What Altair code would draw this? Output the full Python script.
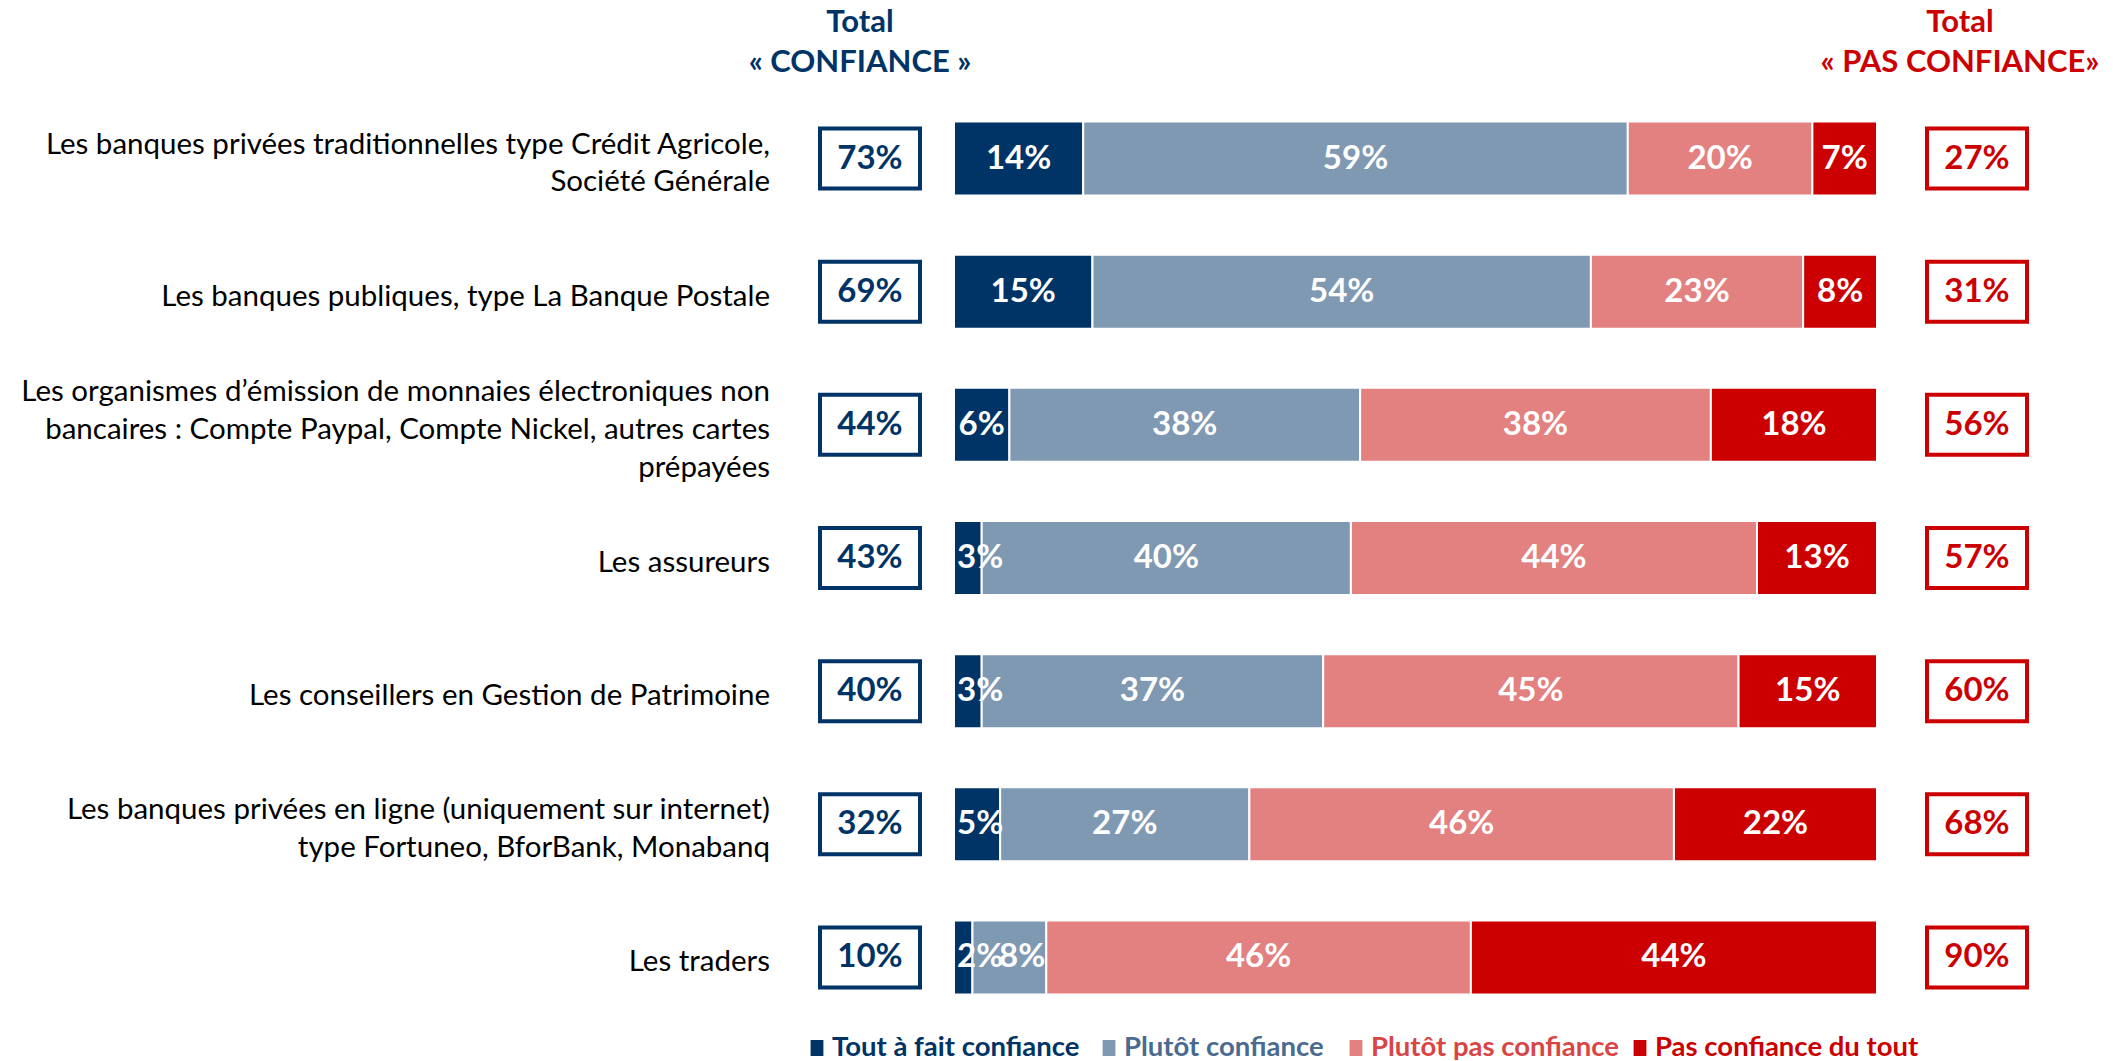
import altair as alt
import pandas as pd

# ---------------- data ----------------
categories = [
    "Les banques privées traditionnelles type Crédit Agricole,\nSociété Générale",
    "Les banques publiques, type La Banque Postale",
    "Les organismes d’émission de monnaies électroniques non\nbancaires : Compte Paypal, Compte Nickel, autres cartes\nprépayées",
    "Les assureurs",
    "Les conseillers en Gestion de Patrimoine",
    "Les banques privées en ligne (uniquement sur internet)\ntype Fortuneo, BforBank, Monabanq",
    "Les traders",
]
series = ["Tout à fait confiance", "Plutôt confiance", "Plutôt pas confiance", "Pas confiance du tout"]
tout_a_fait = [14, 15, 6, 3, 3, 5, 2]
plutot = [59, 54, 38, 40, 37, 27, 8]
plutot_pas = [20, 23, 38, 44, 45, 46, 46]
pas_du_tout = [7, 8, 18, 13, 15, 22, 44]
total_confiance = [73, 69, 44, 43, 40, 32, 10]
total_pas_confiance = [27, 31, 56, 57, 60, 68, 90]

# ---------------- styles ----------------
NAVY = "#003366"
STEEL = "#7F99B2"
SALMON = "#E38080"
RED = "#CC0000"
bar_colors = [NAVY, STEEL, SALMON, RED]
legend_text_colors = [NAVY, "#4A6A90", "#D94545", RED]
FONT = "Lato"
LINE_H = 37.8

W, H = 923, 932

rows = []
for ci, cat in enumerate(categories):
    for si, vals in enumerate([tout_a_fait, plutot, plutot_pas, pas_du_tout]):
        rows.append({"cat": cat, "series": series[si], "idx": si, "value": vals[ci]})
long_df = pd.DataFrame(rows)
tot_df = pd.DataFrame({"cat": categories, "conf": total_confiance, "pas": total_pas_confiance})

# legend layout (pixel positions relative to plot origin)
leg_sq_x = [-137, 155, 402, 686]
leg_df = pd.DataFrame({
    "series": series,
    "fill": bar_colors,
    "tcol": legend_text_colors,
    "sx": leg_sq_x,
    "tx": [x + 15 for x in leg_sq_x],
})

yenc = alt.Y("cat:N", sort=categories, axis=None,
             scale=alt.Scale(domain=categories, paddingInner=0, paddingOuter=0))
xscale = alt.Scale(domain=[0, 100], nice=False, zero=True)

base = alt.Chart(long_df).transform_stack(
    stack="value", groupby=["cat"], as_=["start", "end"], sort=[alt.SortField("idx")]
).transform_calculate(
    mid="(datum.start + datum.end) / 2",
    label="datum.value + '%'",
)

bars = base.mark_bar(size=74, stroke="white", strokeWidth=2).encode(
    x=alt.X("start:Q", scale=xscale, axis=None),
    x2="end:Q",
    y=yenc,
    color=alt.Color("series:N", scale=alt.Scale(domain=series, range=bar_colors), legend=None),
)

txt_style = dict(font=FONT, fontWeight="bold", fontSize=33, color="white", baseline="middle")
lab_mid = base.transform_filter(
    "!(datum.value <= 5) && !(datum.value < 10 && datum.idx == 1)"
).mark_text(align="center", **txt_style).encode(
    x=alt.X("mid:Q", scale=xscale), y=yenc, text="label:N")
lab_start = base.transform_filter("datum.value <= 5").mark_text(
    align="left", dx=3, **txt_style).encode(
    x=alt.X("start:Q", scale=xscale), y=yenc, text="label:N")
lab_end = base.transform_filter("datum.value > 5 && datum.value < 10 && datum.idx == 1").mark_text(
    align="right", dx=-1, **txt_style).encode(
    x=alt.X("end:Q", scale=xscale), y=yenc, text="label:N")

BOX = "M-1,-0.6L1,-0.6L1,0.6L-1,0.6Z"
tot = alt.Chart(tot_df).transform_calculate(
    conf_l="datum.conf + '%'", pas_l="datum.pas + '%'",
    nlines="length(split(datum.cat, '\\n'))")
box_l = tot.mark_point(shape=BOX, size=10000, filled=True, fill="white", stroke=NAVY,
                       strokeWidth=4, opacity=1).encode(x=alt.value(-84), y=yenc)
box_l_t = tot.mark_text(font=FONT, fontWeight="bold", fontSize=33, color=NAVY,
                        align="center", baseline="middle").encode(
    x=alt.value(-84), y=yenc, text="conf_l:N")
box_r = tot.mark_point(shape=BOX, size=10000, filled=True, fill="white", stroke=RED,
                       strokeWidth=4, opacity=1).encode(x=alt.value(1023), y=yenc)
box_r_t = tot.mark_text(font=FONT, fontWeight="bold", fontSize=33, color=RED,
                        align="center", baseline="middle").encode(
    x=alt.value(1023), y=yenc, text="pas_l:N")

cat_layers = []
for n in (1, 2, 3):
    cat_layers.append(
        tot.transform_filter(f"datum.nlines == {n}").mark_text(
            font=FONT, fontSize=29.5, color="black", align="right", baseline="middle",
            lineBreak="\n", lineHeight=LINE_H, dy=5 - (n - 1) * LINE_H / 2).encode(
            x=alt.value(-184), y=yenc, text="cat:N")
    )

one = alt.Data(values=[{"a": 1}])
hdr_style = dict(font=FONT, fontWeight="bold", fontSize=31, align="center", baseline="alphabetic")
h1 = alt.Chart(one).mark_text(color=NAVY, **hdr_style).encode(
    x=alt.value(-94), y=alt.value(-60), text=alt.value("Total"))
h2 = alt.Chart(one).mark_text(color=NAVY, **hdr_style).encode(
    x=alt.value(-94), y=alt.value(-20), text=alt.value("« CONFIANCE »"))
h3 = alt.Chart(one).mark_text(color=RED, **hdr_style).encode(
    x=alt.value(1006), y=alt.value(-60), text=alt.value("Total"))
h4 = alt.Chart(one).mark_text(color=RED, **hdr_style).encode(
    x=alt.value(1006), y=alt.value(-20), text=alt.value("« PAS CONFIANCE»"))

LEG_Y = 956
leg = alt.Chart(leg_df)
leg_sq = leg.mark_point(shape="M-0.8,-1L0.8,-1L0.8,1L-0.8,1Z", size=256, filled=True,
                        opacity=1).encode(
    x=alt.X("sx:Q", scale=None), y=alt.value(LEG_Y),
    fill=alt.Fill("fill:N", scale=None, legend=None))
leg_tx = leg.mark_text(font=FONT, fontWeight="bold", fontSize=27.5, align="left",
                       baseline="middle").encode(
    x=alt.X("tx:Q", scale=None), y=alt.value(LEG_Y), text="series:N",
    color=alt.Color("tcol:N", scale=None, legend=None))

chart = alt.layer(
    bars, lab_mid, lab_start, lab_end,
    box_l, box_l_t, box_r, box_r_t, *cat_layers,
    h1, h2, h3, h4, leg_sq, leg_tx,
).properties(
    width=W, height=H,
    padding={"left": 946, "top": 84, "right": 231, "bottom": 45},
    autosize=alt.AutoSizeParams(type="none"),
    background="white",
).configure_view(stroke=None)

chart.save("out.html", embed_options={"renderer": "svg", "actions": False})
